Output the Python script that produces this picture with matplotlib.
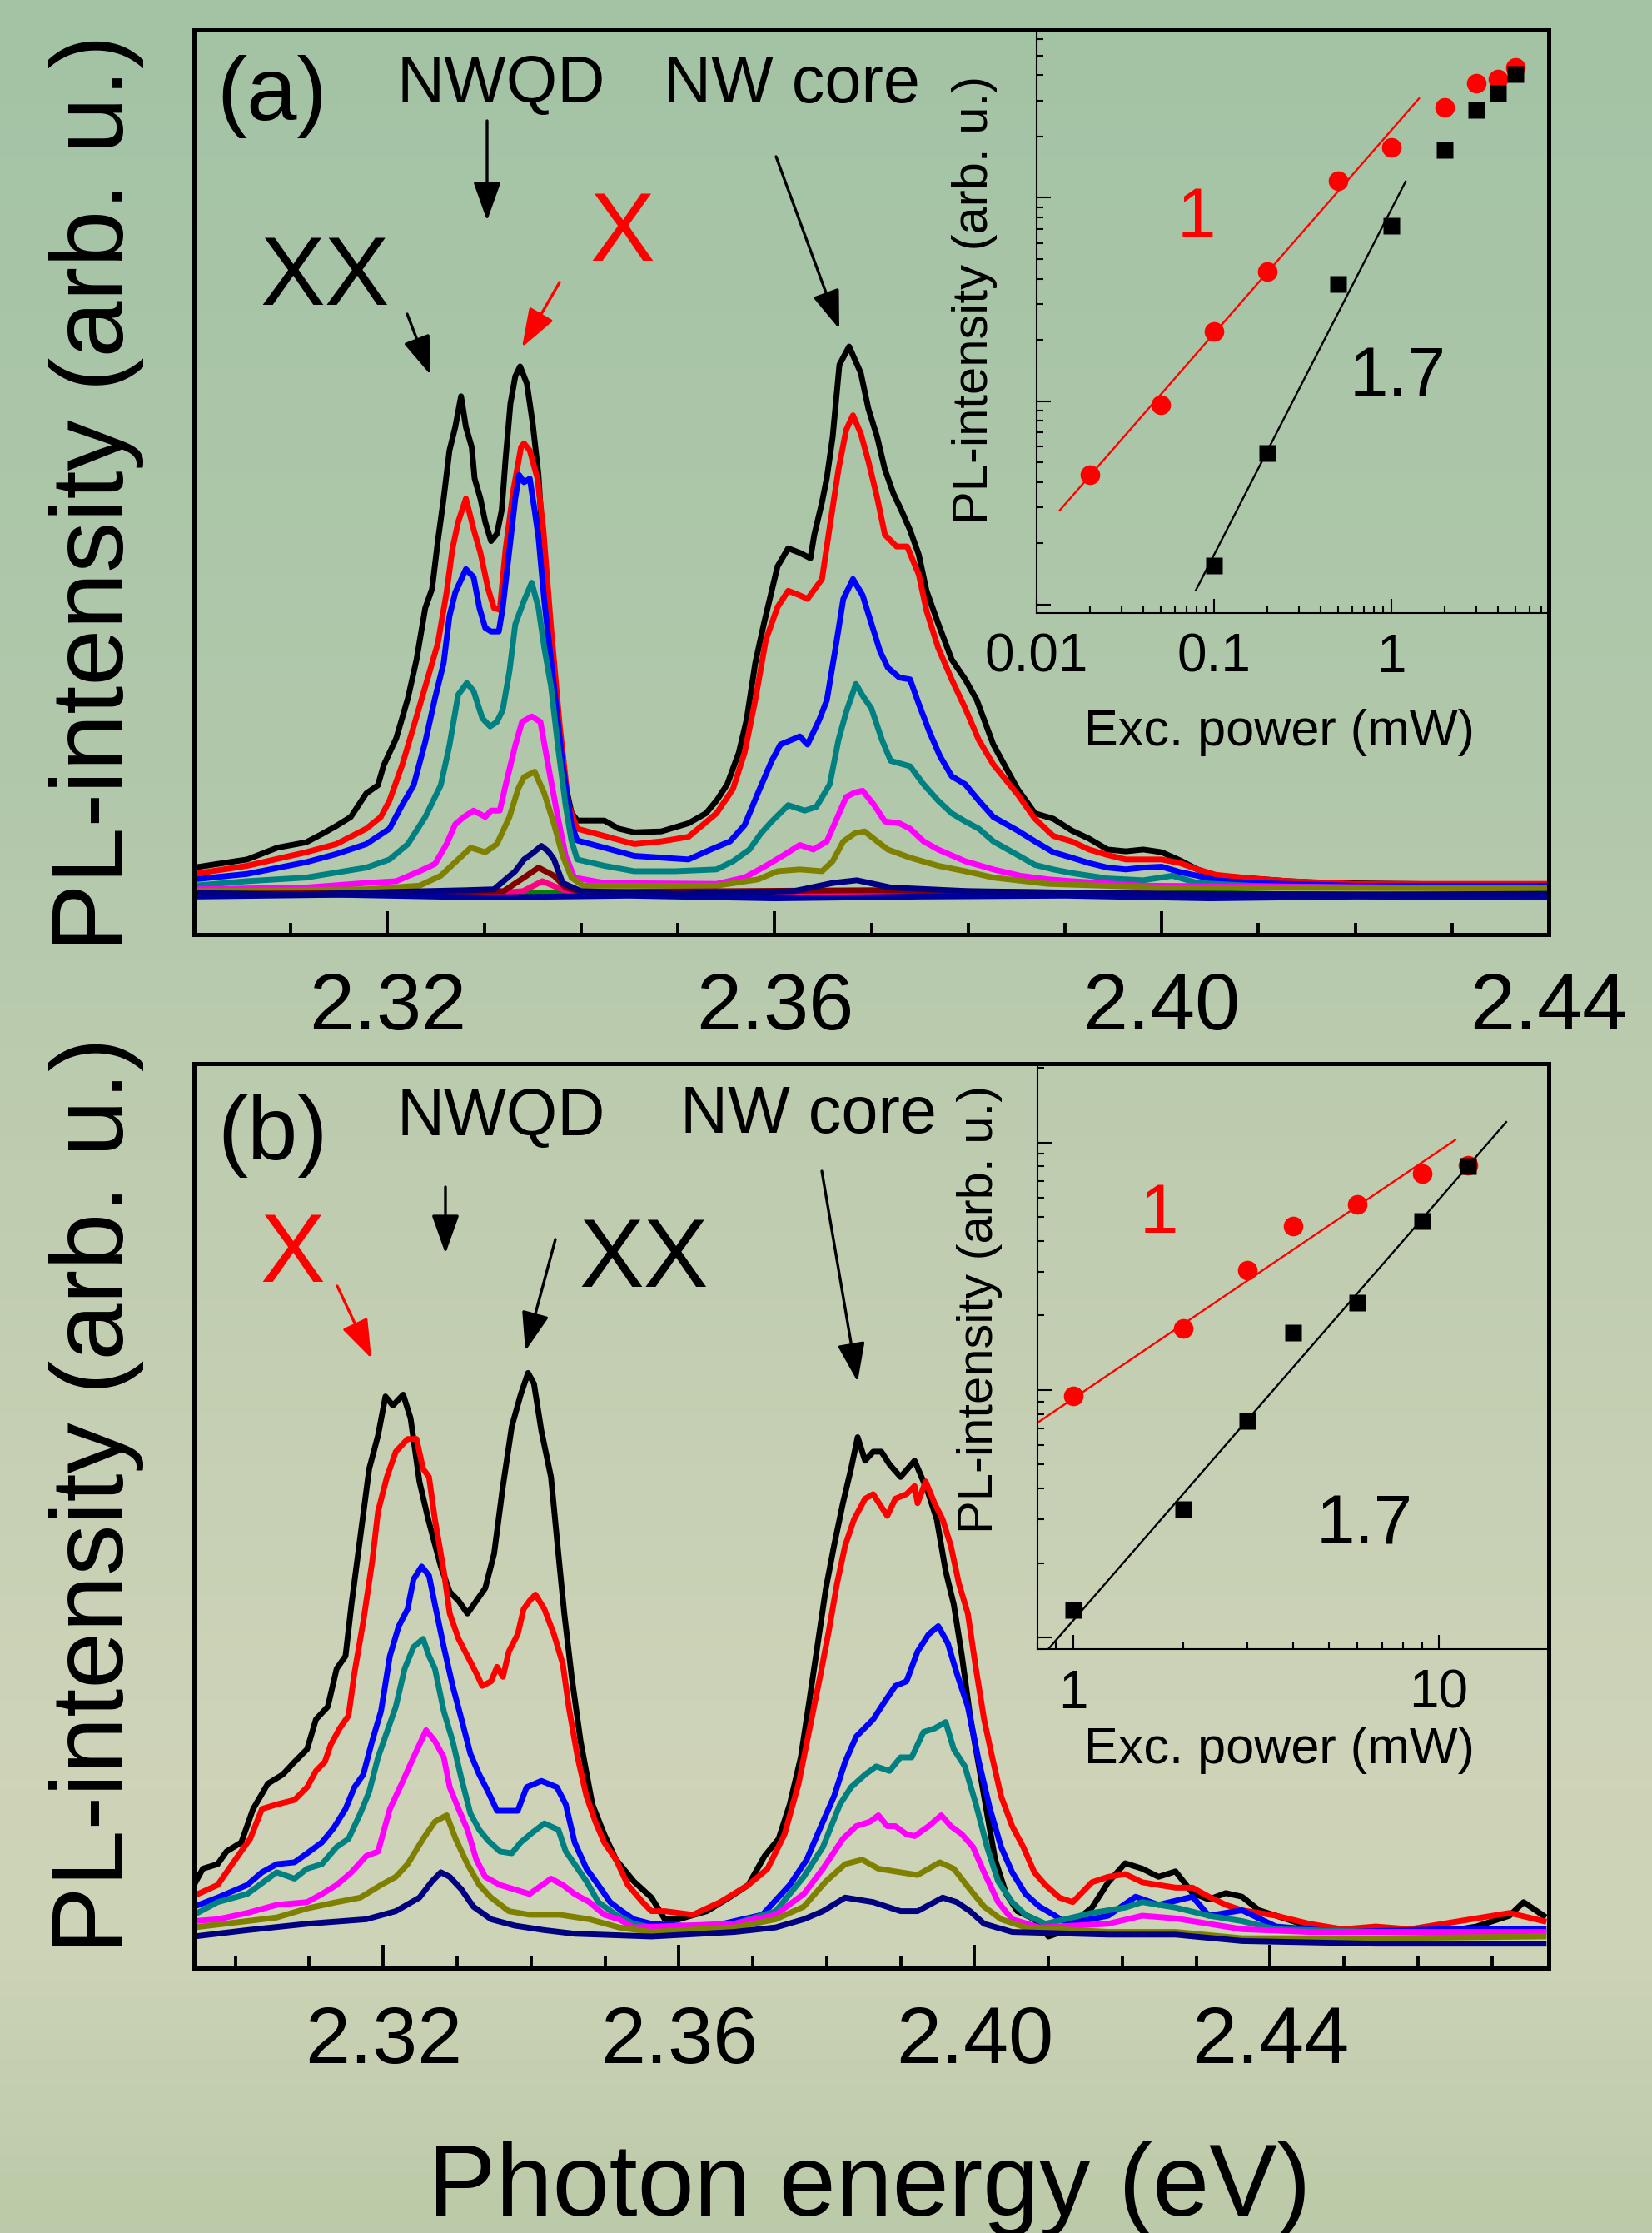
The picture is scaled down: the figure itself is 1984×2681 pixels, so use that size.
import numpy as np
import matplotlib
matplotlib.use("Agg")
import matplotlib.pyplot as plt
from matplotlib.colors import LinearSegmentedColormap
from matplotlib.ticker import FixedLocator, LogLocator, NullFormatter, MultipleLocator

plt.rcParams['font.family'] = ['Liberation Sans', 'DejaVu Sans']
W, H = 1984, 2681

# ---------------- panel (a) spectra: photon energy (eV) / PL intensity (arb. u.) ----------------
Ea_black = [2.3000, 2.3024, 2.3055, 2.3086, 2.3116, 2.3132, 2.3147, 2.3162, 2.3178, 2.3190, 2.3196, 2.3209, 2.3221, 2.3230,
            2.3239, 2.3246, 2.3252, 2.3258, 2.3264, 2.3270, 2.3276, 2.3281, 2.3287, 2.3290, 2.3296, 2.3301, 2.3307, 2.3313,
            2.3318, 2.3322, 2.3327, 2.3332, 2.3337, 2.3344, 2.3350, 2.3356, 2.3362, 2.3369, 2.3376, 2.3384, 2.3390, 2.3396,
            2.3424, 2.3439, 2.3455, 2.3483, 2.3511, 2.3529, 2.3540, 2.3551, 2.3563, 2.3571, 2.3580, 2.3589, 2.3597, 2.3603,
            2.3614, 2.3626, 2.3637, 2.3641, 2.3649, 2.3654, 2.3660, 2.3667, 2.3677, 2.3689, 2.3697, 2.3706, 2.3714, 2.3723,
            2.3731, 2.3740, 2.3749, 2.3757, 2.3769, 2.3783, 2.3797, 2.3809, 2.3826, 2.3851, 2.3869, 2.3888, 2.3907, 2.3925,
            2.3944, 2.3963, 2.3981, 2.4000, 2.4019, 2.4037, 2.4056, 2.4093, 2.4131, 2.4168, 2.4250, 2.4400]
Ia_black = [7.4, 7.8, 8.3, 9.6, 10.2, 11.1, 12.0, 13.0, 15.6, 16.5, 18.7, 21.7, 26.1, 30.4,
            36.1, 38.2, 43.5, 48.2, 53.5, 56.1, 59.5, 56.1, 53.9, 50.4, 48.2, 45.6, 43.5, 44.3,
            46.9, 52.6, 58.7, 61.7, 62.8, 60.9, 56.5, 50.8, 40.4, 30.4, 23.0, 16.5, 13.5, 12.6,
            12.6, 11.7, 11.3, 11.4, 12.3, 13.4, 14.8, 16.6, 20.1, 23.7, 30.0, 34.4, 38.0, 40.7,
            42.7, 42.2, 41.6, 44.2, 47.8, 50.5, 55.0, 63.0, 65.0, 62.1, 58.1, 55.0, 51.4, 48.7,
            46.9, 44.7, 42.0, 38.0, 34.4, 30.4, 28.2, 25.9, 21.0, 16.1, 13.4, 12.8, 11.5, 10.6,
            9.4, 9.2, 9.4, 9.1, 8.2, 7.2, 6.5, 6.2, 5.9, 5.7, 5.6, 5.4]

Ea_red = [2.3000, 2.3055, 2.3116, 2.3147, 2.3178, 2.3193, 2.3202, 2.3215, 2.3227, 2.3239, 2.3252, 2.3261, 2.3267, 2.3273,
          2.3281, 2.3289, 2.3296, 2.3304, 2.3310, 2.3316, 2.3322, 2.3330, 2.3338, 2.3341, 2.3347, 2.3355, 2.3361, 2.3369,
          2.3378, 2.3387, 2.3396, 2.3424, 2.3455, 2.3483, 2.3511, 2.3540, 2.3557, 2.3569, 2.3580, 2.3591, 2.3603, 2.3614,
          2.3626, 2.3634, 2.3649, 2.3657, 2.3666, 2.3674, 2.3681, 2.3689, 2.3697, 2.3706, 2.3714, 2.3726, 2.3737, 2.3749,
          2.3757, 2.3769, 2.3783, 2.3797, 2.3811, 2.3826, 2.3851, 2.3869, 2.3888, 2.3907, 2.3925, 2.3944, 2.3963, 2.3981,
          2.4000, 2.4019, 2.4037, 2.4056, 2.4093, 2.4131, 2.4200, 2.4400]
Ia_red = [6.7, 7.6, 9.1, 10.0, 11.7, 13.0, 14.8, 18.7, 23.0, 27.4, 32.2, 37.8, 42.6, 45.6,
          48.2, 44.8, 42.2, 38.2, 36.1, 35.9, 42.6, 49.1, 53.9, 54.3, 53.5, 50.4, 44.8, 33.9,
          23.0, 14.3, 11.7, 10.9, 10.0, 10.3, 10.8, 13.4, 16.1, 20.1, 25.9, 32.6, 36.2, 38.0,
          37.5, 37.1, 39.3, 45.1, 51.4, 55.8, 57.4, 55.4, 52.3, 48.3, 44.2, 42.9, 42.9, 39.8,
          35.8, 31.7, 28.2, 25.0, 21.5, 18.8, 15.5, 12.8, 10.9, 10.3, 9.4, 8.8, 8.3, 8.3,
          8.3, 7.9, 7.2, 6.6, 6.2, 5.9, 5.6, 5.6]

Ea_blue = [2.3000, 2.3055, 2.3116, 2.3147, 2.3178, 2.3202, 2.3215, 2.3227, 2.3239, 2.3249, 2.3258, 2.3264, 2.3270, 2.3281,
           2.3289, 2.3295, 2.3301, 2.3307, 2.3315, 2.3319, 2.3326, 2.3332, 2.3336, 2.3341, 2.3347, 2.3352, 2.3356, 2.3362,
           2.3372, 2.3381, 2.3390, 2.3396, 2.3424, 2.3455, 2.3511, 2.3534, 2.3554, 2.3569, 2.3583, 2.3597, 2.3606, 2.3626,
           2.3634, 2.3646, 2.3654, 2.3663, 2.3671, 2.3681, 2.3691, 2.3700, 2.3709, 2.3717, 2.3729, 2.3740, 2.3749, 2.3760,
           2.3771, 2.3783, 2.3797, 2.3811, 2.3826, 2.3851, 2.3869, 2.3888, 2.3907, 2.3925, 2.3944, 2.3963, 2.3981, 2.4000,
           2.4019, 2.4037, 2.4056, 2.4093, 2.4200, 2.4400]
Ia_blue = [6.1, 6.7, 8.0, 8.9, 10.0, 11.7, 14.3, 16.5, 21.3, 26.1, 30.0, 35.2, 37.8, 40.4,
           39.5, 36.1, 33.9, 33.5, 33.5, 36.1, 42.6, 48.2, 50.8, 50.0, 50.4, 46.9, 43.9, 36.9,
           27.4, 18.7, 12.2, 10.4, 9.6, 8.7, 8.3, 9.4, 10.3, 12.1, 15.7, 19.2, 21.0, 21.9,
           21.0, 23.7, 25.9, 31.7, 37.1, 39.3, 37.5, 34.4, 31.3, 29.5, 28.4, 28.2, 25.5, 22.4,
           19.7, 17.5, 16.6, 14.8, 13.0, 11.5, 10.3, 9.1, 8.5, 7.9, 7.4, 7.2, 7.4, 7.5,
           6.9, 6.5, 6.0, 5.7, 5.4, 5.4]

Ea_teal = [2.3000, 2.3055, 2.3116, 2.3178, 2.3202, 2.3221, 2.3239, 2.3255, 2.3264, 2.3273, 2.3282, 2.3289, 2.3298, 2.3306,
           2.3313, 2.3319, 2.3326, 2.3332, 2.3341, 2.3349, 2.3356, 2.3362, 2.3369, 2.3376, 2.3384, 2.3390, 2.3396, 2.3424,
           2.3455, 2.3497, 2.3540, 2.3557, 2.3574, 2.3586, 2.3597, 2.3614, 2.3631, 2.3643, 2.3657, 2.3666, 2.3674, 2.3684,
           2.3691, 2.3700, 2.3711, 2.3720, 2.3740, 2.3754, 2.3769, 2.3783, 2.3797, 2.3811, 2.3826, 2.3851, 2.3869, 2.3888,
           2.3907, 2.3944, 2.3981, 2.4011, 2.4037, 2.4093, 2.4200, 2.4400]
Ia_teal = [5.4, 5.9, 6.3, 7.4, 8.3, 10.0, 13.0, 16.5, 20.9, 26.5, 27.8, 26.9, 23.9, 23.0,
           23.5, 24.8, 29.1, 34.3, 36.9, 38.9, 36.1, 31.7, 27.4, 20.9, 14.3, 10.4, 8.3, 7.6,
           7.0, 7.0, 7.2, 8.1, 9.4, 11.2, 12.5, 14.3, 13.7, 14.1, 16.6, 21.5, 24.6, 27.7,
           26.4, 25.0, 21.5, 19.2, 18.6, 16.6, 14.8, 13.4, 12.5, 11.7, 10.3, 8.8, 7.7, 7.2,
           6.8, 6.2, 6.0, 6.5, 5.7, 5.4, 5.2, 5.2]

Ea_magenta = [2.3000, 2.3116, 2.3178, 2.3209, 2.3233, 2.3249, 2.3261, 2.3270, 2.3279, 2.3289, 2.3301, 2.3307, 2.3316,
              2.3322, 2.3332, 2.3339, 2.3349, 2.3358, 2.3366, 2.3375, 2.3384, 2.3393, 2.3424, 2.3540, 2.3569, 2.3591,
              2.3609, 2.3626, 2.3640, 2.3654, 2.3663, 2.3674, 2.3683, 2.3691, 2.3703, 2.3714, 2.3729, 2.3740, 2.3754,
              2.3769, 2.3783, 2.3797, 2.3826, 2.3854, 2.3883, 2.3907, 2.3981, 2.4400]
Ia_magenta = [5.0, 5.2, 5.7, 5.9, 7.0, 7.8, 10.0, 12.2, 13.0, 13.7, 13.0, 13.7, 13.7,
              16.5, 20.9, 23.5, 24.1, 23.5, 18.7, 13.5, 8.7, 6.3, 5.7, 5.6, 6.3, 7.6,
              8.75, 9.9, 9.4, 10.3, 12.5, 15.2, 15.7, 15.9, 14.3, 12.5, 12.3, 11.7, 10.3,
              9.4, 8.75, 8.1, 7.2, 6.5, 6.1, 5.9, 5.4, 5.1]

Ea_olive = [2.3000, 2.3178, 2.3233, 2.3255, 2.3270, 2.3286, 2.3301, 2.3313, 2.3326, 2.3335, 2.3341, 2.3352, 2.3362,
            2.3372, 2.3381, 2.3390, 2.3402, 2.3540, 2.3583, 2.3603, 2.3626, 2.3649, 2.3660, 2.3671, 2.3683, 2.3693,
            2.3706, 2.3717, 2.3740, 2.3769, 2.3797, 2.3826, 2.3883, 2.4000, 2.4400]
Ia_olive = [4.8, 5.0, 5.4, 6.5, 8.0, 9.6, 9.1, 10.0, 13.0, 16.1, 17.4, 18.0, 15.6,
            12.2, 8.7, 6.3, 5.4, 5.4, 6.1, 7.0, 7.2, 7.0, 8.1, 10.3, 11.2, 11.4,
            10.3, 9.4, 8.5, 7.6, 7.0, 6.3, 5.6, 5.2, 5.1]

Ea_navy = [2.3000, 2.3100, 2.3200, 2.3280, 2.3310, 2.3322, 2.3332, 2.3341, 2.3350, 2.3359, 2.3366, 2.3372, 2.3381,
           2.3400, 2.3500, 2.3620, 2.3660, 2.3685, 2.3720, 2.3800, 2.4000, 2.4200, 2.4400]
Ia_navy = [4.6, 4.4, 4.7, 4.9, 5.0, 6.1, 7.0, 8.3, 9.0, 9.8, 9.2, 8.3, 5.7,
           4.8, 4.5, 4.8, 5.7, 6.0, 5.2, 4.8, 4.5, 4.4, 4.5]

Ea_wine = [2.3000, 2.3200, 2.3320, 2.3341, 2.3356, 2.3372, 2.3384, 2.3400, 2.3700, 2.4000, 2.4400]
Ia_wine = [4.5, 4.6, 4.8, 6.3, 7.4, 6.5, 5.2, 4.7, 4.9, 4.5, 4.4]

Ea_pink = [2.3000, 2.3300, 2.3340, 2.3360, 2.3380, 2.3400, 2.3700, 2.4400]
Ia_pink = [4.4, 4.5, 4.8, 5.9, 5.0, 4.5, 4.6, 4.3]

Ea_flat = [2.3000, 2.3150, 2.3300, 2.3450, 2.3600, 2.3750, 2.3900, 2.4050, 2.4200, 2.4400]
Ia_green = [4.6, 4.4, 4.7, 4.5, 4.6, 4.8, 4.4, 4.6, 4.3, 4.5]
Ia_royal = [4.2, 4.4, 4.1, 4.3, 4.0, 4.2, 4.3, 4.0, 4.2, 4.1]

# ---------------- panel (b) spectra ----------------
Eb_black = [2.2944, 2.2956, 2.2976, 2.2988, 2.3008, 2.3024, 2.3044, 2.3064, 2.3080, 2.3097, 2.3109, 2.3125, 2.3137, 2.3149,
            2.3157, 2.3169, 2.3181, 2.3193, 2.3203, 2.3213, 2.3227, 2.3237, 2.3249, 2.3261, 2.3278, 2.3290, 2.3302, 2.3314,
            2.3326, 2.3338, 2.3350, 2.3362, 2.3374, 2.3386, 2.3396, 2.3404, 2.3414, 2.3427, 2.3437, 2.3445, 2.3455, 2.3467,
            2.3483, 2.3499, 2.3515, 2.3539, 2.3563, 2.3581, 2.3600, 2.3638, 2.3668, 2.3694, 2.3716, 2.3735, 2.3750, 2.3765,
            2.3777, 2.3788, 2.3799, 2.3810, 2.3822, 2.3833, 2.3842, 2.3852, 2.3863, 2.3874, 2.3885, 2.3900, 2.3919, 2.3931,
            2.3938, 2.3949, 2.3961, 2.3972, 2.3983, 2.3994, 2.4006, 2.4017, 2.4028, 2.4043, 2.4058, 2.4081, 2.4100, 2.4118,
            2.4159, 2.4181, 2.4204, 2.4227, 2.4249, 2.4272, 2.4295, 2.4317, 2.4340, 2.4362, 2.4385, 2.4408, 2.4453, 2.4498,
            2.4543, 2.4589, 2.4634, 2.4679, 2.4724, 2.4743, 2.4770]
Ib_black = [9.2, 11.0, 11.5, 12.9, 13.9, 17.6, 20.4, 21.4, 22.8, 24.2, 27.5, 28.9, 33.1, 34.5,
            40.2, 47.7, 55.2, 58.9, 63.2, 62.2, 63.4, 60.8, 53.8, 49.6, 44.4, 41.6, 40.6, 39.2,
            40.6, 42.0, 45.8, 53.3, 59.9, 63.4, 65.8, 64.6, 59.4, 54.3, 45.8, 39.2, 32.2, 25.1,
            18.1, 14.8, 12.0, 9.6, 7.8, 5.4, 5.4, 6.3, 7.8, 9.2, 12.4, 14.3, 18.1, 23.3,
            29.8, 35.9, 42.0, 46.7, 51.4, 55.2, 58.7, 56.1, 57.1, 57.1, 55.7, 54.3, 56.1, 53.8,
            52.4, 49.6, 43.9, 40.2, 34.5, 27.9, 22.3, 17.1, 12.0, 8.2, 6.3, 5.4, 3.5, 4.0,
            6.7, 9.5, 11.6, 11.0, 10.1, 10.7, 8.3, 7.6, 8.3, 7.9, 6.4, 5.8, 4.6, 4.0,
            4.3, 4.3, 4.0, 4.6, 5.8, 7.3, 5.8]

Eb_red = [2.2944, 2.2976, 2.3000, 2.3020, 2.3036, 2.3056, 2.3080, 2.3097, 2.3109, 2.3121, 2.3129, 2.3141, 2.3153, 2.3161,
          2.3173, 2.3185, 2.3193, 2.3205, 2.3217, 2.3233, 2.3245, 2.3254, 2.3262, 2.3270, 2.3282, 2.3290, 2.3302, 2.3314,
          2.3326, 2.3334, 2.3346, 2.3354, 2.3362, 2.3370, 2.3382, 2.3390, 2.3398, 2.3406, 2.3418, 2.3431, 2.3443, 2.3451,
          2.3463, 2.3475, 2.3487, 2.3499, 2.3515, 2.3531, 2.3551, 2.3563, 2.3581, 2.3619, 2.3656, 2.3694, 2.3720, 2.3743,
          2.3762, 2.3777, 2.3792, 2.3803, 2.3814, 2.3825, 2.3837, 2.3852, 2.3863, 2.3882, 2.3893, 2.3908, 2.3919, 2.3923,
          2.3934, 2.3946, 2.3957, 2.3968, 2.3979, 2.3991, 2.4002, 2.4013, 2.4024, 2.4036, 2.4051, 2.4066, 2.4081, 2.4096,
          2.4115, 2.4133, 2.4159, 2.4181, 2.4204, 2.4227, 2.4249, 2.4272, 2.4295, 2.4317, 2.4340, 2.4362, 2.4408, 2.4453,
          2.4498, 2.4543, 2.4589, 2.4634, 2.4679, 2.4724, 2.4770]
Ib_red = [8.0, 9.2, 12.0, 14.3, 17.6, 18.1, 18.6, 20.0, 21.8, 22.8, 24.7, 26.5, 27.9, 32.6,
          38.3, 44.9, 50.5, 54.3, 57.1, 58.5, 58.5, 55.2, 54.3, 49.6, 43.9, 39.2, 36.4, 34.5,
          32.6, 31.2, 31.7, 33.3, 32.2, 35.0, 36.9, 39.7, 40.6, 41.3, 39.7, 36.9, 33.6, 28.9,
          23.3, 19.0, 16.2, 13.9, 12.0, 9.2, 7.3, 6.3, 6.3, 5.9, 7.3, 9.2, 11.0, 14.8,
          20.4, 26.5, 32.6, 37.3, 42.5, 46.7, 49.6, 51.9, 52.4, 50.0, 51.9, 52.4, 53.3, 51.4,
          53.8, 51.4, 49.6, 46.7, 42.5, 39.2, 33.1, 27.5, 23.3, 19.0, 15.7, 13.4, 10.6, 9.2,
          7.8, 7.3, 9.5, 10.1, 10.4, 9.5, 9.2, 8.9, 8.9, 7.9, 7.0, 6.4, 5.8, 4.9,
          4.3, 4.6, 4.3, 4.9, 5.5, 6.1, 5.2]

Eb_blue = [2.2944, 2.2976, 2.3016, 2.3036, 2.3056, 2.3080, 2.3097, 2.3117, 2.3133, 2.3149, 2.3161, 2.3173, 2.3185, 2.3197,
           2.3209, 2.3221, 2.3233, 2.3241, 2.3252, 2.3262, 2.3270, 2.3282, 2.3294, 2.3306, 2.3318, 2.3330, 2.3342, 2.3354,
           2.3370, 2.3382, 2.3394, 2.3414, 2.3435, 2.3447, 2.3459, 2.3475, 2.3491, 2.3507, 2.3523, 2.3539, 2.3563, 2.3638,
           2.3713, 2.3750, 2.3773, 2.3795, 2.3810, 2.3825, 2.3840, 2.3863, 2.3878, 2.3893, 2.3908, 2.3923, 2.3938, 2.3951,
           2.3964, 2.3976, 2.3991, 2.4006, 2.4021, 2.4036, 2.4051, 2.4069, 2.4088, 2.4107, 2.4126, 2.4181, 2.4218, 2.4249,
           2.4295, 2.4317, 2.4362, 2.4408, 2.4498, 2.4634, 2.4770]
Ib_blue = [6.8, 7.8, 9.2, 10.6, 11.5, 11.7, 12.7, 13.9, 15.5, 17.6, 20.0, 21.4, 25.1, 28.4,
           34.5, 37.8, 39.7, 43.0, 44.4, 43.4, 40.2, 35.5, 31.2, 27.5, 23.7, 21.4, 19.5, 17.4,
           17.4, 17.4, 20.0, 20.7, 20.0, 18.1, 13.9, 11.0, 9.2, 7.3, 6.3, 5.4, 4.9, 4.5,
           5.9, 9.2, 12.0, 16.2, 19.0, 22.8, 25.6, 27.5, 29.4, 31.2, 31.7, 35.0, 36.9, 37.8,
           35.9, 32.6, 28.9, 22.8, 17.6, 13.4, 10.6, 8.2, 6.8, 5.9, 4.9, 5.8, 7.9, 7.0,
           7.9, 5.8, 6.4, 4.6, 4.0, 4.3, 4.3]

Eb_teal = [2.2944, 2.2976, 2.3016, 2.3056, 2.3080, 2.3097, 2.3117, 2.3137, 2.3153, 2.3169, 2.3181, 2.3193, 2.3205, 2.3217,
           2.3229, 2.3241, 2.3254, 2.3262, 2.3270, 2.3282, 2.3294, 2.3306, 2.3318, 2.3330, 2.3342, 2.3358, 2.3374, 2.3386,
           2.3402, 2.3418, 2.3437, 2.3447, 2.3459, 2.3475, 2.3491, 2.3515, 2.3539, 2.3563, 2.3675, 2.3731, 2.3769, 2.3795,
           2.3818, 2.3833, 2.3852, 2.3867, 2.3885, 2.3900, 2.3915, 2.3931, 2.3946, 2.3961, 2.3972, 2.3987, 2.4002, 2.4017,
           2.4032, 2.4051, 2.4069, 2.4096, 2.4159, 2.4204, 2.4227, 2.4272, 2.4317, 2.4362, 2.4408, 2.4543, 2.4770]
Ib_teal = [5.9, 7.3, 8.2, 10.6, 9.9, 11.0, 11.5, 13.4, 14.3, 17.1, 19.5, 23.3, 26.1, 28.9,
           33.1, 35.5, 36.4, 34.5, 33.1, 28.4, 25.1, 20.9, 17.1, 15.3, 14.1, 12.9, 12.7, 13.9,
           15.0, 16.0, 15.3, 12.9, 11.5, 9.6, 7.3, 5.9, 4.9, 4.5, 4.9, 6.3, 10.1, 13.4,
           18.1, 20.0, 21.4, 22.3, 21.8, 23.3, 23.3, 26.1, 26.5, 27.2, 24.2, 22.3, 18.1, 13.4,
           9.6, 7.3, 5.9, 4.9, 6.1, 6.7, 7.3, 6.7, 5.8, 5.2, 4.3, 4.0, 4.0]

Eb_magenta = [2.2944, 2.2976, 2.3016, 2.3056, 2.3097, 2.3117, 2.3137, 2.3157, 2.3177, 2.3193, 2.3209, 2.3225, 2.3241,
              2.3258, 2.3270, 2.3282, 2.3290, 2.3302, 2.3314, 2.3326, 2.3338, 2.3358, 2.3378, 2.3398, 2.3427, 2.3443,
              2.3459, 2.3479, 2.3499, 2.3519, 2.3539, 2.3675, 2.3731, 2.3769, 2.3795, 2.3822, 2.3840, 2.3859, 2.3870,
              2.3882, 2.3893, 2.3908, 2.3919, 2.3938, 2.3955, 2.3968, 2.3983, 2.3998, 2.4013, 2.4032, 2.4051, 2.4088,
              2.4181, 2.4227, 2.4272, 2.4317, 2.4362, 2.4453, 2.4770]
Ib_magenta = [5.2, 5.4, 6.1, 7.0, 7.3, 8.2, 9.2, 10.6, 12.4, 12.9, 17.6, 20.4, 23.3,
              26.3, 25.1, 23.3, 20.0, 17.6, 15.3, 12.0, 10.1, 9.2, 8.7, 8.2, 9.9, 9.2,
              8.2, 7.3, 5.9, 5.4, 4.5, 4.9, 5.9, 8.2, 11.0, 14.3, 15.7, 16.2, 16.9,
              15.7, 15.7, 14.8, 14.6, 15.7, 16.9, 15.7, 14.8, 13.4, 10.6, 7.3, 5.4, 4.5,
              4.9, 5.8, 5.5, 4.9, 4.3, 4.0, 4.0]

Eb_olive = [2.2944, 2.3016, 2.3056, 2.3097, 2.3137, 2.3169, 2.3197, 2.3217, 2.3233, 2.3254, 2.3270, 2.3286, 2.3298,
            2.3314, 2.3330, 2.3346, 2.3370, 2.3398, 2.3439, 2.3479, 2.3519, 2.3563, 2.3675, 2.3731, 2.3769, 2.3799,
            2.3825, 2.3848, 2.3870, 2.3900, 2.3923, 2.3953, 2.3972, 2.3994, 2.4013, 2.4036, 2.4069, 2.4181, 2.4272,
            2.4362, 2.4543, 2.4770]
Ib_olive = [4.5, 5.2, 5.6, 6.6, 7.3, 7.8, 9.2, 10.1, 11.5, 14.3, 16.2, 16.9, 14.3,
            11.5, 9.2, 7.8, 6.3, 5.9, 5.9, 5.4, 4.5, 4.0, 4.5, 5.4, 6.8, 9.6,
            11.5, 12.0, 11.0, 10.6, 10.3, 11.7, 11.0, 8.7, 6.8, 5.4, 4.5, 4.0, 4.0,
            3.3, 3.3, 3.5]

Eb_navy = [2.2944, 2.3016, 2.3097, 2.3177, 2.3217, 2.3249, 2.3266, 2.3278, 2.3290, 2.3306, 2.3322, 2.3346, 2.3378,
           2.3418, 2.3459, 2.3563, 2.3675, 2.3731, 2.3769, 2.3795, 2.3825, 2.3863, 2.3900, 2.3923, 2.3957, 2.3976,
           2.3994, 2.4013, 2.4051, 2.4181, 2.4272, 2.4362, 2.4543, 2.4770]
Ib_navy = [3.5, 4.2, 4.9, 5.4, 6.3, 7.8, 9.6, 10.6, 10.1, 8.7, 6.8, 5.4, 4.7,
           4.2, 3.8, 3.5, 4.0, 4.5, 5.4, 6.3, 7.8, 7.3, 6.3, 6.3, 7.8, 7.3,
           6.3, 4.9, 4.0, 3.7, 3.7, 3.0, 2.7, 2.7]

# ---------------- insets: integrated PL vs excitation power ----------------
Pa_X = [0.02, 0.05, 0.1, 0.2, 0.5, 1, 2, 3, 4, 5]
Ia_X = [4.34, 9.60, 21.9, 43.4, 121, 176, 279, 367, 382, 437]
Pa_XX = [0.1, 0.2, 0.5, 1, 2, 3, 4, 5]
Ia_XX = [1.55, 5.56, 37.8, 72.9, 171, 269, 325, 405]
fit_a_X = (215.0, 1.0, 0.0135, 1.43)     # prefactor, exponent, P range
fit_a_XX = (88.0, 1.7, 0.079, 1.20)

Pb = [1, 2, 3, 4, 6, 9, 12]
Ib_X = [9.48, 17.7, 30.5, 45.9, 56.1, 74.9, 81.0]
Ib_XX = [1.29, 3.29, 7.49, 17.05, 22.6, 48.0, 80.1]
fit_b_X = (9.22, 1.0, 0.80, 11.1)
fit_b_XX = (1.17, 1.7, 0.834, 15.3)

energy_ticks = [2.32, 2.36, 2.40, 2.44]
energy_labels = ["2.32", "2.36", "2.40", "2.44"]

fig = plt.figure(figsize=(W / 100, H / 100), dpi=100)

# background gradient
bg = fig.add_axes([0, 0, 1, 1], zorder=-10)
cmap = LinearSegmentedColormap.from_list("bg", [(0, "#a3c3a5"), (0.35, "#b2c8ab"), (0.55, "#c0cdb0"),
                                                (0.8, "#cfd4b9"), (0.88, "#ccd3b6"), (1, "#bbcaa8")])
bg.imshow(np.linspace(0, 1, 512)[:, None], aspect="auto", cmap=cmap, extent=[0, 1, 0, 1], origin="upper")
bg.axis("off")


def fpos(x, y):
    return x / W, 1 - y / H


def box(l, t, r, b):
    return [l / W, 1 - b / H, (r - l) / W, (b - t) / H]


def main_axes(rect, xlim):
    ax = fig.add_axes(rect)
    ax.patch.set_alpha(0)
    ax.set_xlim(*xlim)
    ax.set_ylim(0, 100)
    ax.set_yticks([])
    ax.xaxis.set_major_locator(FixedLocator(energy_ticks))
    ax.set_xticklabels(energy_labels)
    ax.xaxis.set_minor_locator(MultipleLocator(0.01))
    ax.tick_params(axis="x", which="major", direction="in", length=20, width=2.8, labelsize=70, pad=32)
    ax.tick_params(axis="x", which="minor", direction="in", length=10, width=2.8)
    for s in ax.spines.values():
        s.set_linewidth(3.6)
    return ax


ax_a = main_axes(box(233, 36, 1860, 1122), (2.30, 2.44))
ax_b = main_axes(box(233, 1277, 1860, 2363), (2.2944, 2.4777))

lw = 5.0
for E, I, c in [(Ea_black, Ia_black, "black"), (Ea_red, Ia_red, "#ff0000"), (Ea_blue, Ia_blue, "#0000ff"),
                (Ea_teal, Ia_teal, "#008080"), (Ea_magenta, Ia_magenta, "#ff00ff"), (Ea_olive, Ia_olive, "#808000"),
                (Ea_flat, Ia_green, "#008000"), (Ea_pink, Ia_pink, "#ff0080"), (Ea_wine, Ia_wine, "#800000"),
                (Ea_flat, Ia_royal, "#0000a0"), (Ea_navy, Ia_navy, "#000080")]:
    ax_a.plot(E, I, color=c, lw=lw)

for E, I, c in [(Eb_black, Ib_black, "black"), (Eb_red, Ib_red, "#ff0000"), (Eb_blue, Ib_blue, "#0000ff"),
                (Eb_teal, Ib_teal, "#008080"), (Eb_magenta, Ib_magenta, "#ff00ff"), (Eb_olive, Ib_olive, "#808000"),
                (Eb_navy, Ib_navy, "#000080")]:
    ax_b.plot(E, I, color=c, lw=lw)


def inset(rect, xlim, ylim, xt, xtl, P1, I1, P2, I2, f1, f2):
    ax = fig.add_axes(rect)
    ax.patch.set_alpha(0)
    ax.set_xscale("log")
    ax.set_yscale("log")
    ax.set_xlim(*xlim)
    ax.set_ylim(*ylim)
    for s in ["top", "right"]:
        ax.spines[s].set_visible(False)
    for s in ["left", "bottom"]:
        ax.spines[s].set_linewidth(1.5)
    ax.xaxis.set_major_locator(FixedLocator(xt))
    ax.set_xticklabels(xtl)
    ax.xaxis.set_minor_locator(LogLocator(base=10, subs=range(2, 10)))
    ax.xaxis.set_minor_formatter(NullFormatter())
    ax.yaxis.set_major_locator(FixedLocator([1, 10, 100]))
    ax.yaxis.set_minor_locator(LogLocator(base=10, subs=range(2, 10)))
    ax.yaxis.set_major_formatter(NullFormatter())
    ax.yaxis.set_minor_formatter(NullFormatter())
    ax.tick_params(which="major", direction="in", length=12, width=1.5, labelsize=46, pad=17)
    ax.tick_params(which="minor", direction="in", length=6, width=1.5)
    for (A, k, p0, p1), col in [(f1, "#ff0000"), (f2, "black")]:
        pr = np.array([p0, p1])
        ax.plot(pr, A * pr ** k, color=col, lw=1.7)
    ax.plot(P1, I1, "o", color="#ff0000", ms=17, mec="none")
    ax.plot(P2, I2, "s", color="black", ms=15, mec="none")
    return ax


ins_a = inset(box(1245, 36, 1860, 736), (0.01, 7.7), (0.907, 668), [0.01, 0.1, 1], ["0.01", "0.1", "1"],
              Pa_X, Ia_X, Pa_XX, Ia_XX, fit_a_X, fit_a_XX)
ins_b = inset(box(1246, 1277, 1860, 1980), (0.8, 20), (0.899, 208), [1, 10], ["1", "10"],
              Pb, Ib_X, Pb, Ib_XX, fit_b_X, fit_b_XX)


def txt(x, y, s, size, color="black", va="baseline", rot=0):
    fx, fy = fpos(x, y)
    fig.text(fx, fy, s, fontsize=size, color=color, ha="center", va=va, rotation=rot)


def arrow(tail, tip, color="black"):
    ax_a.annotate("", xy=fpos(*tip), xycoords="figure fraction", xytext=fpos(*tail), textcoords="figure fraction",
                  arrowprops=dict(arrowstyle="-|>,head_length=0.9,head_width=0.32", color=color, lw=2.4,
                                  mutation_scale=32, shrinkA=0, shrinkB=0))


# axis titles
txt(116, 592, "PL-intensity (arb. u.)", 88, va="center", rot=90)
txt(116, 1796, "PL-intensity (arb. u.)", 88, va="center", rot=90)
txt(1044, 2660, "Photon energy (eV)", 88)
txt(1171, 360, "PL-intensity (arb. u.)", 43, va="center", rot=90)
txt(1177, 1572, "PL-intensity (arb. u.)", 43, va="center", rot=90)
txt(1536, 879, "Exc. power (mW)", 44, va="center")
txt(1536, 2101, "Exc. power (mW)", 44, va="center")

# panel (a) labels
txt(327, 144, "(a)", 78)
txt(602, 123, "NWQD", 57)
txt(951, 123, "NW core", 57)
txt(390, 366, "XX", 84)
txt(747, 313, "X", 84, color="#ff0000")
txt(1437, 284, "1", 60, color="#ff0000")
txt(1679, 475, "1.7", 60)
arrow((585, 145), (585, 265))
arrow((489, 377), (517, 450))
arrow((672, 339), (627, 417), "#ff0000")
arrow((932, 188), (1008, 395))

# panel (b) labels
txt(327, 1392, "(b)", 78)
txt(602, 1363, "NWQD", 57)
txt(971, 1360, "NW core", 57)
txt(351, 1539, "X", 84, color="#ff0000")
txt(773, 1545, "XX", 84)
txt(1392, 1480, "1", 60, color="#ff0000")
txt(1639, 1853, "1.7", 60)
arrow((405, 1544), (446, 1631), "#ff0000")
arrow((535, 1425), (535, 1505))
arrow((667, 1488), (631, 1622))
arrow((987, 1406), (1030, 1659))

fig.savefig("out.png", dpi=100, facecolor=fig.get_facecolor())
